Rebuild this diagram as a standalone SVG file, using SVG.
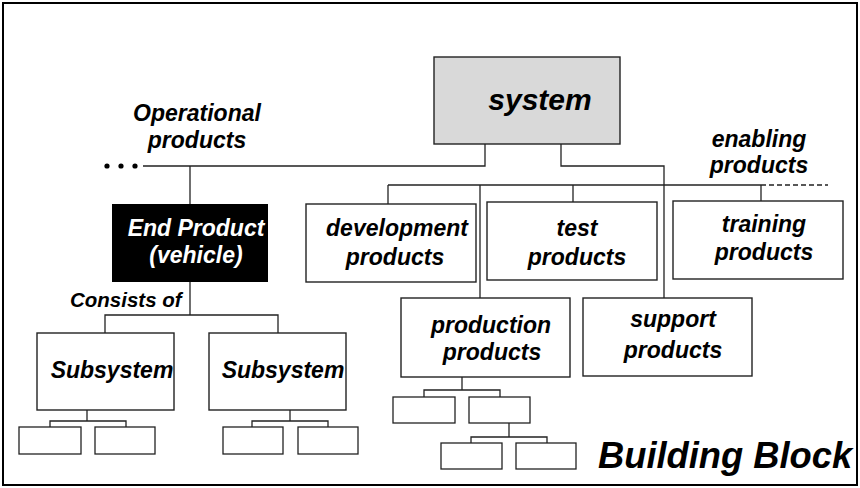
<svg xmlns="http://www.w3.org/2000/svg" width="860" height="488" viewBox="0 0 860 488">
<style>
.box{fill:#fff;stroke:#222;stroke-width:1.4}
.sm{fill:#fff;stroke:#222;stroke-width:1.3}
.ln{fill:none;stroke:#222;stroke-width:1.3}
.t{font-family:"Liberation Sans",Arial,sans-serif;font-weight:bold;font-style:italic;font-size:23px;fill:#000;text-anchor:middle}
</style>
<rect x="3" y="3" width="854" height="482" fill="#fff" stroke="#000" stroke-width="2"/>
<g id="connectors">
<polyline class="ln" points="485,144 485,166 143,166"/>
<line class="ln" x1="190" y1="166" x2="190" y2="204"/>
<polyline class="ln" points="561,144 561,166 664,166 664,298"/>
<line class="ln" x1="388" y1="185" x2="761" y2="185"/>
<line class="ln" x1="761" y1="185" x2="828" y2="185" stroke-dasharray="5,3"/>
<line class="ln" x1="388" y1="185" x2="388" y2="204"/>
<line class="ln" x1="480" y1="185" x2="480" y2="298"/>
<line class="ln" x1="573" y1="185" x2="573" y2="202"/>
<line class="ln" x1="761" y1="185" x2="761" y2="201"/>
<line class="ln" x1="190" y1="282" x2="190" y2="315"/>
<polyline class="ln" points="105,333 105,315 278,315 278,333"/>
<line class="ln" x1="87" y1="410" x2="87" y2="421"/>
<polyline class="ln" points="50,427 50,421 126,421 126,427"/>
<line class="ln" x1="290" y1="410" x2="290" y2="421"/>
<polyline class="ln" points="252,427 252,421 328,421 328,427"/>
<line class="ln" x1="462" y1="377" x2="462" y2="390"/>
<polyline class="ln" points="424,397 424,390 500,390 500,397"/>
<line class="ln" x1="509" y1="423" x2="509" y2="437"/>
<polyline class="ln" points="471,443 471,437 547,437 547,443"/>
<circle cx="107" cy="166" r="2.6" fill="#000"/>
<circle cx="121" cy="166" r="2.6" fill="#000"/>
<circle cx="135" cy="166" r="2.6" fill="#000"/>
</g>
<g id="label-operational">
<text class="t" x="197" y="121">Operational</text>
<text class="t" x="197" y="148">products</text>
</g>
<g id="label-enabling">
<text class="t" x="759" y="147">enabling</text>
<text class="t" x="759" y="173">products</text>
</g>
<g id="system">
<rect x="434" y="57" width="186" height="87" fill="#d9d9d9" stroke="#222" stroke-width="1.4"/>
<text class="t" x="540" y="110" style="font-size:30px">system</text>
</g>
<g id="end-product">
<rect x="112" y="204" width="156" height="78" fill="#000"/>
<text class="t" x="196" y="236" style="fill:#fff">End Product</text>
<text class="t" x="196" y="263" style="fill:#fff">(vehicle)</text>
</g>
<g id="label-consists">
<text class="t" x="70" y="307" style="font-size:20.5px;text-anchor:start">Consists of</text>
</g>
<g id="development">
<rect class="box" x="306" y="204" width="170" height="78"/>
<text class="t" x="397" y="236">development</text>
<text class="t" x="395" y="265">products</text>
</g>
<g id="test">
<rect class="box" x="487" y="202" width="170" height="78"/>
<text class="t" x="577" y="236">test</text>
<text class="t" x="577" y="265">products</text>
</g>
<g id="training">
<rect class="box" x="673" y="201" width="170" height="78"/>
<text class="t" x="764" y="232">training</text>
<text class="t" x="764" y="260">products</text>
</g>
<g id="production">
<rect class="box" x="401" y="298" width="169" height="79"/>
<text class="t" x="491" y="333">production</text>
<text class="t" x="492" y="360">products</text>
</g>
<g id="support">
<rect class="box" x="583" y="298" width="169" height="78"/>
<text class="t" x="673" y="327">support</text>
<text class="t" x="673" y="358">products</text>
</g>
<g id="subsystem1">
<rect class="box" x="37" y="333" width="137" height="77"/>
<text class="t" x="112" y="378">Subsystem</text>
</g>
<g id="subsystem2">
<rect class="box" x="209" y="333" width="137" height="77"/>
<text class="t" x="283" y="378">Subsystem</text>
</g>
<g id="leaf1"><rect class="sm" x="19" y="427" width="62" height="27"/></g>
<g id="leaf2"><rect class="sm" x="95" y="427" width="60" height="27"/></g>
<g id="leaf3"><rect class="sm" x="223" y="427" width="60" height="27"/></g>
<g id="leaf4"><rect class="sm" x="298" y="427" width="60" height="27"/></g>
<g id="leaf5"><rect class="sm" x="393" y="397" width="62" height="26"/></g>
<g id="leaf6"><rect class="sm" x="469" y="397" width="61" height="26"/></g>
<g id="leaf7"><rect class="sm" x="441" y="443" width="61" height="26"/></g>
<g id="leaf8"><rect class="sm" x="516" y="443" width="60" height="26"/></g>
<g id="title">
<text class="t" x="598" y="468" style="font-size:36.3px;text-anchor:start">Building Block</text>
</g>
</svg>
